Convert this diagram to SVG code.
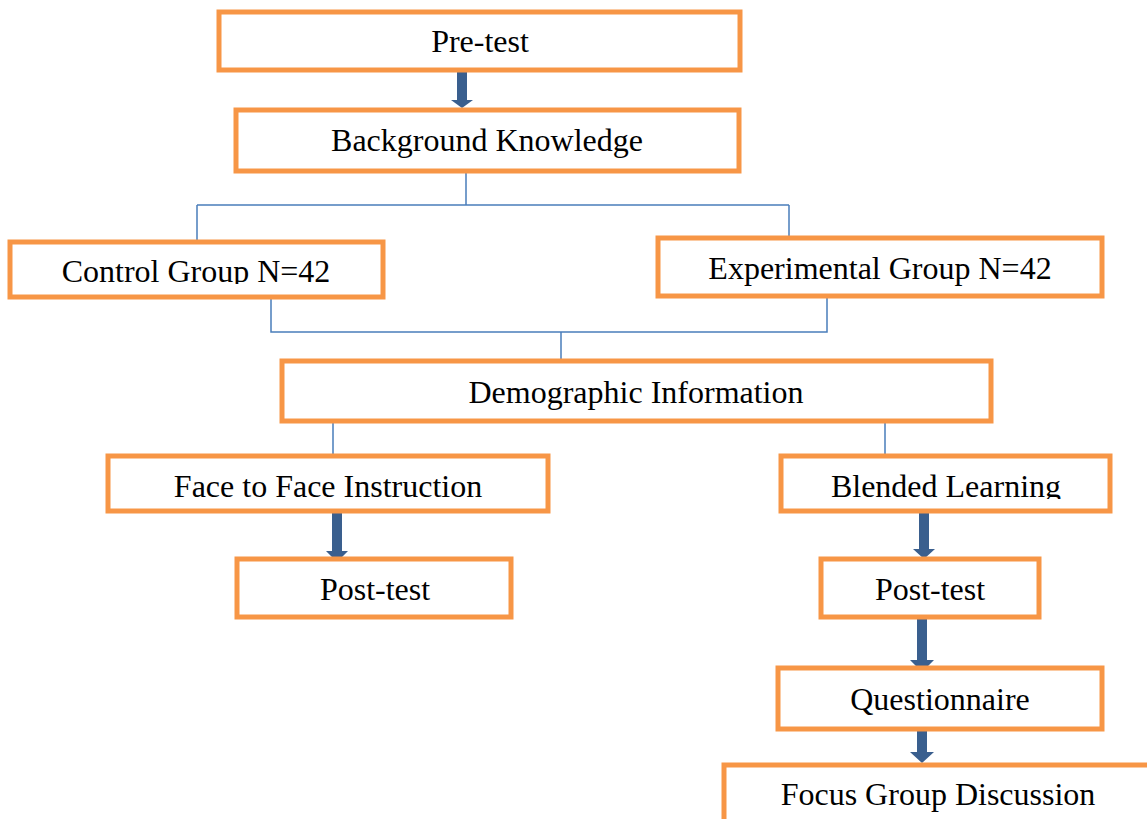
<svg xmlns="http://www.w3.org/2000/svg" width="1147" height="819" viewBox="0 0 1147 819">
<style>
.box{fill:#fff;stroke:#F79646;stroke-width:5;}
.t{font-family:"Liberation Serif","Times New Roman",serif;font-size:32px;fill:#000;text-anchor:middle;}
.ln{fill:none;stroke:#4A7EBB;stroke-width:1.5;}
.ar{fill:#3A5F8E;}
</style>
<defs>
<clipPath id="cc"><rect x="10" y="241" width="374" height="43"/></clipPath>
<clipPath id="cb"><rect x="780" y="455" width="331" height="44"/></clipPath>
</defs>
<rect width="1147" height="819" fill="#fff"/>
<g id="connectors">
<path class="ln" d="M466 172V205M197 205H789M197 205V241M789 205V237"/>
<path class="ln" d="M271 297V332H827V297M561 332V360"/>
<path class="ln" d="M333 422V455M885 422V455"/>
<polygon class="ar" points="457,68 467,68 467,100 473,100 462,108 451,100 457,100"/>
<polygon class="ar" points="332,510 342,510 342,551 348,551 337,562 326,551 332,551"/>
<polygon class="ar" points="919,510 929,510 929,549 935,549 924,559 913,549 919,549"/>
<polygon class="ar" points="917,616 927,616 927,660 934,660 922,672 910,660 917,660"/>
<polygon class="ar" points="917,728 927,728 927,752 934,752 922,763 910,752 917,752"/>
</g>
<g id="pretest"><rect class="box" x="219" y="12" width="521" height="58"/><text class="t" x="480" y="52">Pre-test</text></g>
<g id="background"><rect class="box" x="236" y="110" width="503" height="61"/><text class="t" x="487" y="151">Background Knowledge</text></g>
<g id="control"><rect class="box" x="10" y="242" width="373" height="55"/><text class="t" x="196" y="282" clip-path="url(#cc)">Control Group N=42</text></g>
<g id="experimental"><rect class="box" x="658" y="238" width="444" height="58"/><text class="t" x="880" y="279">Experimental Group N=42</text></g>
<g id="demographic"><rect class="box" x="282" y="361" width="709" height="60"/><text class="t" x="636" y="403">Demographic Information</text></g>
<g id="face"><rect class="box" x="108" y="456" width="440" height="55"/><text class="t" x="328" y="497">Face to Face Instruction</text></g>
<g id="blended"><rect class="box" x="781" y="456" width="329" height="55"/><text class="t" x="946" y="497" clip-path="url(#cb)">Blended Learning</text></g>
<g id="posttest1"><rect class="box" x="237" y="559" width="274" height="58"/><text class="t" x="375" y="600">Post-test</text></g>
<g id="posttest2"><rect class="box" x="821" y="559" width="218" height="58"/><text class="t" x="930" y="600">Post-test</text></g>
<g id="questionnaire"><rect class="box" x="778" y="668" width="324" height="61"/><text class="t" x="940" y="710">Questionnaire</text></g>
<g id="focus"><rect class="box" x="724" y="765" width="450" height="80"/><text class="t" x="938" y="805">Focus Group Discussion</text></g>
</svg>
